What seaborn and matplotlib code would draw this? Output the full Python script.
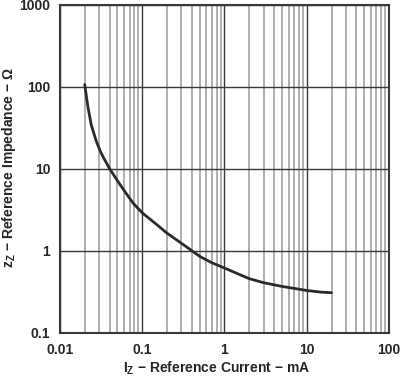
import numpy as np
import pandas as pd
import matplotlib
matplotlib.use("Agg")
import matplotlib.pyplot as plt
import seaborn as sns
from matplotlib.ticker import FixedLocator, FixedFormatter, LogLocator, NullFormatter

# curve (mA, ohm)
current_ma = [0.020, 0.021, 0.022, 0.024, 0.0277, 0.031, 0.034, 0.0403, 0.047,
              0.054, 0.065, 0.078, 0.1, 0.15, 0.2, 0.3, 0.4, 0.5, 0.7,
              1, 1.5, 2, 3, 5, 7, 10, 15, 20]
impedance = [107, 75, 55, 34.4, 21.6, 16.4, 13.6, 10, 7.9,
             6.4, 4.9, 3.8, 2.92, 2.1, 1.65, 1.24, 1.01, 0.86, 0.72,
             0.62, 0.52, 0.46, 0.41, 0.37, 0.35, 0.33, 0.315, 0.31]

x_ticks = [0.01, 0.1, 1, 10, 100]
x_labels = ["0.01", "0.1", "1", "10", "100"]
y_ticks = [0.1, 1, 10, 100, 1000]
y_labels = ["0.1", "1", "10", "100", "1000"]

sns.set_style("white")
plt.rcParams["font.family"] = ["Liberation Sans", "DejaVu Sans"]
plt.rcParams["font.weight"] = "bold"
plt.rcParams["mathtext.fontset"] = "custom"
plt.rcParams["mathtext.rm"] = "Liberation Sans:bold"
plt.rcParams["mathtext.bf"] = "Liberation Sans:bold"
plt.rcParams["mathtext.it"] = "Liberation Sans:bold"

df = pd.DataFrame({"I": current_ma, "Z": impedance})

fig = plt.figure(figsize=(4.02, 3.78), dpi=100)
ax = fig.add_axes([60 / 402, 45 / 378, 329 / 402, 328 / 378])

ax.set_xscale("log")
ax.set_yscale("log")
ax.set_xlim(0.01, 100)
ax.set_ylim(0.1, 1000)

# grid: minor lines lighter, decade lines dark
ax.xaxis.set_major_locator(FixedLocator(x_ticks))
ax.xaxis.set_major_formatter(FixedFormatter(x_labels))
ax.xaxis.set_minor_locator(LogLocator(base=10, subs=np.arange(2, 10)))
ax.xaxis.set_minor_formatter(NullFormatter())
ax.yaxis.set_major_locator(FixedLocator(y_ticks))
ax.yaxis.set_major_formatter(FixedFormatter(y_labels))
ax.yaxis.set_minor_locator(FixedLocator([]))
ax.grid(which="major", color="#3a3a3a", linewidth=1.0)
ax.grid(which="minor", axis="x", color="#9a9a9a", linewidth=1.1)
ax.tick_params(which="both", length=0, labelsize=10)
ax.tick_params(axis="x", pad=7)
ax.tick_params(axis="y", pad=7)

sns.lineplot(data=df, x="I", y="Z", ax=ax, color="#2b2b2b", linewidth=2.0)
ax.lines[-1].set_solid_joinstyle("round")

for s in ax.spines.values():
    s.set_color("#3a3a3a")
    s.set_linewidth(1.5)

ax.set_xlabel(r"$\mathrm{I_Z}$ − Reference Current − mA", fontsize=10, fontweight="bold")
ax.set_ylabel(r"$\mathrm{z_Z}$ − Reference Impedance − Ω", fontsize=10, fontweight="bold")
ax.xaxis.set_label_coords((217 - 60) / 329, (333 - 372.5) / 328)
ax.xaxis.label.set_va("baseline")
ax.yaxis.set_label_coords((9 - 60) / 329, (333 - 167.5) / 328)
ax.yaxis.label.set_va("center")

fig.savefig("out.png", dpi=100)
